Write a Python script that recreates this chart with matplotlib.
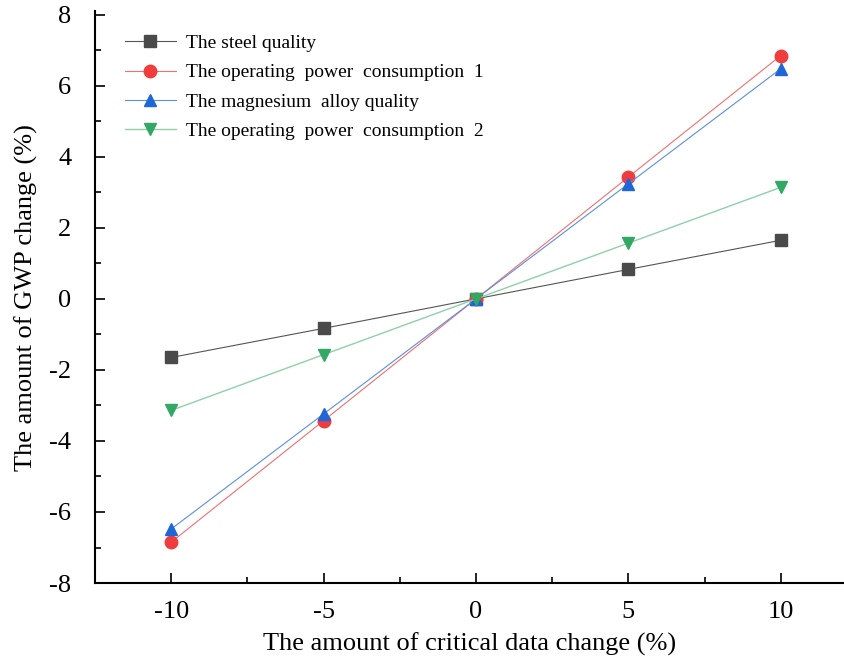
import matplotlib.pyplot as plt

# data
x = [-10, -5, 0, 5, 10]
steel = [-1.65, -0.83, 0, 0.83, 1.65]
power1 = [-6.85, -3.43, 0, 3.43, 6.85]
magnesium = [-6.48, -3.24, 0, 3.24, 6.48]
power2 = [-3.14, -1.57, 0, 1.57, 3.14]

labels = ["The steel quality",
          "The operating  power  consumption  1",
          "The magnesium  alloy quality",
          "The operating  power  consumption  2"]

plt.rcParams["font.family"] = ["Liberation Serif", "DejaVu Serif"]
plt.rcParams["axes.unicode_minus"] = False

fig = plt.figure(figsize=(8.45, 6.59), dpi=100)
ax = fig.add_axes([0.1124, 0.1153, 0.8855, 0.8677])

ax.plot(x, steel, color="#555555", lw=0.8, marker="s", ms=8,
        mfc="#4a4a4a", mec="#4a4a4a", label=labels[0])
ax.plot(x, power1, color="#f07070", lw=0.8, marker="o", ms=9,
        mfc="#f03c3c", mec="#f03c3c", label=labels[1])
ax.plot(x, magnesium, color="#5b8fe0", lw=0.8, marker="^", ms=9,
        mfc="#1f66d6", mec="#1f66d6", label=labels[2])
ax.plot(x, power2, color="#8fd0aa", lw=1.0, marker="v", ms=9,
        mfc="#33a865", mec="#33a865", label=labels[3])

ax.set_xlim(-12.5, 12.05)
ax.set_ylim(-8, 8.1)
ax.set_xticks([-10, -5, 0, 5, 10])
ax.set_xticks([-7.5, -2.5, 2.5, 7.5], minor=True)
ax.set_yticks([-8, -6, -4, -2, 0, 2, 4, 6, 8])
ax.set_yticks([-7, -5, -3, -1, 1, 3, 5, 7], minor=True)
ax.tick_params(which="major", direction="in", length=7, width=1.2, labelsize=19)
ax.tick_params(axis="y", which="major", pad=17)
ax.tick_params(axis="x", which="major", pad=13)
ax.tick_params(which="minor", direction="in", length=4, width=1.2)

ax.spines["top"].set_visible(False)
ax.spines["right"].set_visible(False)
ax.spines["left"].set_linewidth(1.5)
ax.spines["bottom"].set_linewidth(1.5)

ax.set_xlabel("The amount of critical data change (%)", fontsize=19, labelpad=7)
ax.set_ylabel("The amount of GWP change (%)", fontsize=19, labelpad=8)

ax.legend(loc="upper left", bbox_to_anchor=(0.017, 0.99), frameon=False,
          fontsize=14, handlelength=2.6, handletextpad=0.55, labelspacing=0.6)

plt.savefig("out.png", dpi=100)
